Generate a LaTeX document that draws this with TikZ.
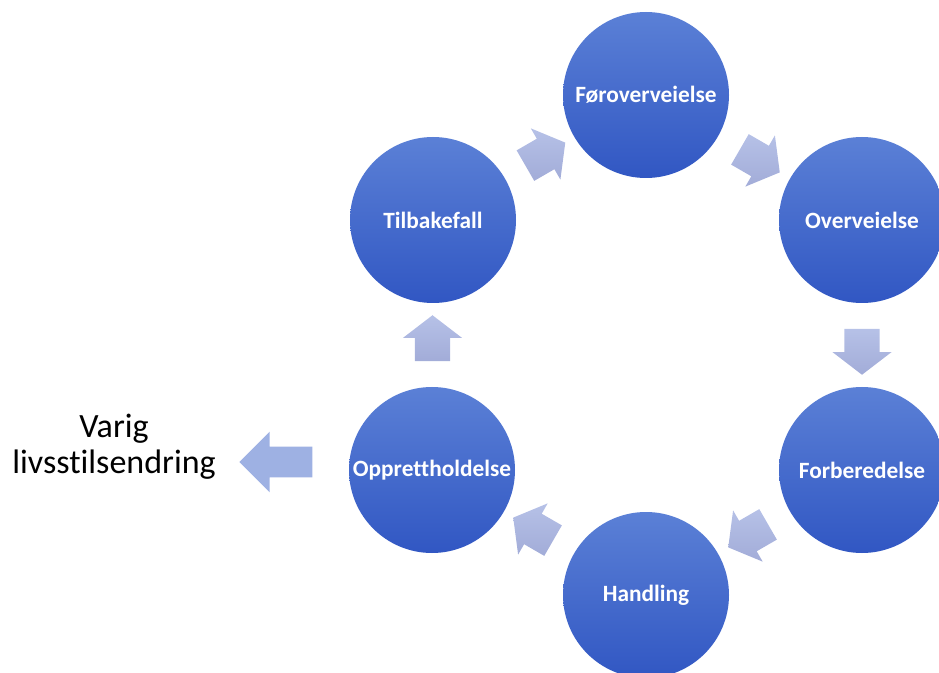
\documentclass[tikz,border=0pt]{standalone}
\usepackage{fontspec}
\setmainfont{Carlito}[Ligatures=NoCommon]
\usetikzlibrary{shapes.arrows, positioning, calc}
\definecolor{circtop}{HTML}{5B80D6}
\definecolor{circbot}{HTML}{3157C3}
\definecolor{arrtop}{HTML}{B6C1E7}
\definecolor{arrbot}{HTML}{A2ACD8}
\definecolor{outarrow}{HTML}{9EB1E3}
\tikzset{
    cycle/.style={x=0.75pt, y=-0.75pt},
    stage/.style={circle, minimum size=124.5pt, inner sep=0pt, top color=circtop, bottom color=circbot,
        text=white, font=\fontsize{17.5}{20}\selectfont\bfseries},
    % block arrow between two stages
    steparrow/.style={single arrow, minimum height=34.5pt, minimum width=44pt, inner xsep=0pt,
        inner ysep=13pt, single arrow head extend=9pt, single arrow tip angle=105,
        top color=arrtop, bottom color=arrbot, draw=none},
}

\begin{document}
\begin{tikzpicture}[cycle]
        \useasboundingbox (0,0) rectangle (939,673);
        \clip (0,0) rectangle (939,673);

        \node[stage] (forover) at (646,95)  {Føroverveielse};
        \node[stage] (over)    at (862,220) {Overveielse};
        \node[stage] (forb)    at (862,470) {Forberedelse};
        \node[stage] (handl)   at (646,595) {Handling};
        \node[stage] (oppr)    at (432,470) {Opprettholdelse};
        \node[stage] (tilb)    at (433,220) {Tilbakefall};

        % arrows round the cycle
        \node[steparrow, rotate=30]   (a1) at ($(tilb)!0.5!(forover)$) {};
        \node[steparrow, rotate=-30]  (a2) at ($(forover)!0.5!(over)$) {};
        \node[steparrow, rotate=-90]  (a3) at ($(over)!0.5!(forb)$) {};
        \node[steparrow, rotate=210]  (a4) at ($(forb)!0.5!(handl)$) {};
        \node[steparrow, rotate=150]  (a5) at ($(handl)!0.5!(oppr)$) {};
        \node[steparrow, rotate=90]   (a6) at ($(oppr)!0.5!(tilb)$) {};

        % way out of the cycle
        \node[single arrow, minimum height=54.75pt, minimum width=45pt, inner xsep=0pt, inner ysep=11.25pt,
            single arrow head extend=11.25pt, fill=outarrow, rotate=180] (out) at (283.5,462) {};
        \node[align=center, font=\fontsize{25.5}{27}\selectfont] (goal) at (114,447) {Varig\\livsstilsendring};
\end{tikzpicture}
\end{document}
